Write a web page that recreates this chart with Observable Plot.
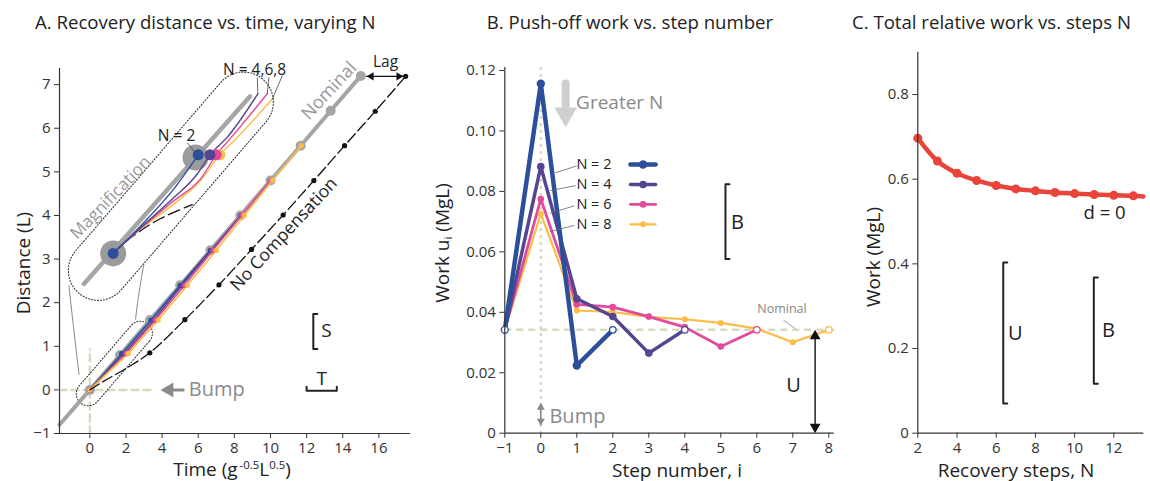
<!DOCTYPE html>
<html><head><meta charset="utf-8">
<script src="https://cdn.jsdelivr.net/npm/d3@7"></script>
<script src="https://cdn.jsdelivr.net/npm/@observablehq/plot@0.6"></script>
<style>
body{margin:0;background:#fff;font-family:"Open Sans",sans-serif;}
#root{position:relative;width:1150px;height:481px;overflow:hidden;background:#fff}
#root svg{position:absolute;top:0}
.lbl{position:absolute;white-space:nowrap;color:#222;transform:translate(-50%,-50%);line-height:1}
.rot{transform:translate(-50%,-50%) rotate(-90deg)}
.ttl{position:absolute;white-space:nowrap;color:#222;font-size:18.6px;line-height:1;transform:translateY(-50%)}
sup{font-size:60%;vertical-align:0.55em}
sub{font-size:60%;vertical-align:-0.3em}
</style></head><body><div id="root"></div>
<script>
// ===== Panel A: recovery distance vs time =====
const nominalT = [0, 1.67, 3.33, 5.0, 6.67, 8.33, 10.0, 11.67, 13.33, 15.0];
const nominalD = [0, 0.8, 1.6, 2.4, 3.2, 4.0, 4.8, 5.6, 6.4, 7.2];
const nominalTailT = -1.68, nominalTailD = -0.8;
const noCompStartT = [0, 0.78, 2.07];
const noCompStartD = [0, 0.2, 0.51];
const noCompStepT = [3.32, 5.26, 7.15, 8.95, 10.7, 12.4, 14.1, 15.8, 17.48];
const noCompStepD = [0.85, 1.61, 2.41, 3.22, 4.01, 4.8, 5.6, 6.39, 7.19];
const recN2T = [0, 1.76, 3.38, 5.0, 6.67];
const recN2D = [0, 0.83, 1.6, 2.4, 3.2];
const recN4T = [0, 1.9, 3.55, 5.1, 6.72, 8.35];
const recN4D = [0, 0.83, 1.6, 2.4, 3.2, 4.0];
const recN6T = [0, 2.0, 3.62, 5.24, 6.82, 8.4, 10.0];
const recN6D = [0, 0.83, 1.6, 2.4, 3.2, 4.0, 4.8];
const recN8T = [0, 2.12, 3.78, 5.4, 7.0, 8.55, 10.1, 11.7];
const recN8D = [0, 0.83, 1.6, 2.4, 3.2, 4.0, 4.8, 5.6];
// magnified inset (drawn in panel-A coordinates)
const insetNomT = [-0.33, 8.86], insetNomD = [2.43, 6.73];
const insetBigT = [1.29, 5.85], insetBigD = [3.13, 5.33];
const insetN2T = [1.29, 2.81, 4.65, 6.0], insetN2D = [3.13, 3.76, 4.61, 5.39];
const insetN4T = [1.29, 2.81, 4.65, 5.95, 6.65, 7.6, 9.3], insetN4D = [3.13, 3.72, 4.41, 4.95, 5.39, 5.79, 6.79];
const insetN6T = [1.29, 2.81, 4.65, 6.13, 7.0, 7.83, 9.82], insetN6D = [3.13, 3.70, 4.34, 4.84, 5.39, 5.79, 6.79];
const insetN8T = [1.29, 2.81, 4.65, 6.13, 7.2, 8.07, 10.1], insetN8D = [3.13, 3.69, 4.26, 4.80, 5.39, 5.75, 6.67];
const insetDotT = [6.0, 6.65, 7.0, 7.2];
const insetNoCompT = [1.29, 1.7, 2.81, 3.92, 5.67], insetNoCompD = [3.13, 3.3, 3.65, 3.93, 4.25];
const stepLengthS = 0.8, stepTimeT = 1.67;
const aXTicks = [0, 2, 4, 6, 8, 10, 12, 14, 16];
const aYTicks = [-1, 0, 1, 2, 3, 4, 5, 6, 7];

// ===== Panel B: push-off work vs step number =====
const stepsN2 = [-1, 0, 1, 2];
const workN2 = [0.0342, 0.1156, 0.0224, 0.0342];
const stepsN4 = [-1, 0, 1, 2, 3, 4];
const workN4 = [0.0342, 0.0882, 0.0445, 0.0386, 0.0265, 0.0342];
const stepsN6 = [-1, 0, 1, 2, 3, 4, 5, 6];
const workN6 = [0.0342, 0.0775, 0.0426, 0.0417, 0.0386, 0.0351, 0.0287, 0.0342];
const stepsN8 = [-1, 0, 1, 2, 3, 4, 5, 6, 7, 8];
const workN8 = [0.0342, 0.0726, 0.0406, 0.0401, 0.0385, 0.0377, 0.0365, 0.0346, 0.0301, 0.0342];
const nominalWork = 0.0342;
const bumpB = [0.0025, 0.0101];
const bracketB = [0.0576, 0.0824];
const bXTicks = [-1, 0, 1, 2, 3, 4, 5, 6, 7, 8];
const bYTicks = [0, 0.02, 0.04, 0.06, 0.08, 0.10, 0.12];
const legendLabels = ["N = 2", "N = 4", "N = 6", "N = 8"];

// ===== Panel C: total relative work vs steps N =====
const stepsC = [2, 3, 4, 5, 6, 7, 8, 9, 10, 11, 12, 13];
const workC = [0.697, 0.643, 0.614, 0.597, 0.585, 0.577, 0.5725, 0.5685, 0.566, 0.5638, 0.562, 0.5607];
const workCEdge = [13.5, 0.559];
const bracketCU = [0.07, 0.403], bracketCB = [0.117, 0.368];
const cXTicks = [2, 4, 6, 8, 10, 12];
const cYTicks = [0, 0.2, 0.4, 0.6, 0.8];

// ===== styling =====
const FONT = '"Open Sans", sans-serif';
const C2 = "#2c4f9c", C4 = "#56458f", C6 = "#e24a9b", C8 = "#fbbd45", RED = "#e8443a";
const GRAY = "#a5a5a5", PALE = "#d9d9c2", DARK = "#222";
const zip = (xs, ys) => xs.map((x, i) => ({x, y: ys[i]}));
const txt = (x, y, t, o = {}) => Plot.text([{x, y, t}], {x: "x", y: "y", text: "t", fontFamily: FONT, fill: DARK, ...o});
const seg = (pts, o = {}) => Plot.line(pts.map(([x, y]) => ({x, y})), {x: "x", y: "y", ...o});
const triOff = r => 2 * Math.sqrt(Math.PI * r * r / (3 * Math.sqrt(3)));
const tri = (x, y, rot, r, fill, dx = 0, dy = 0) => Plot.dot([{x, y}], {x: "x", y: "y", symbol: "triangle", r, fill, stroke: "none", rotate: rot, dx, dy});

function stadium(p1, p2, r, kx, ky, n = 30) {
  const a = [p1[0] * kx, p1[1] * ky], b = [p2[0] * kx, p2[1] * ky];
  const ang = Math.atan2(b[1] - a[1], b[0] - a[0]);
  const pts = [];
  for (let i = 0; i <= n; i++) { const t = ang - Math.PI / 2 + Math.PI * i / n; pts.push([b[0] + r * Math.cos(t), b[1] + r * Math.sin(t)]); }
  for (let i = 0; i <= n; i++) { const t = ang + Math.PI / 2 + Math.PI * i / n; pts.push([a[0] + r * Math.cos(t), a[1] + r * Math.sin(t)]); }
  pts.push(pts[0]);
  return pts.map(([x, y]) => [x / kx, y / ky]);
}

const root = document.getElementById("root");
function place(svg, left) { svg.style.left = left + "px"; root.appendChild(svg); }
function label(html, x, y, size, cls = "", color = DARK) {
  const d = document.createElement("div");
  d.className = "lbl " + cls; d.innerHTML = html;
  d.style.left = x + "px"; d.style.top = y + "px"; d.style.fontSize = size + "px"; d.style.color = color;
  root.appendChild(d);
}
function title(html, x, y, center) {
  const d = document.createElement("div");
  d.className = "ttl"; d.innerHTML = html; d.style.left = x + "px"; d.style.top = y + "px";
  if (center) d.style.transform = "translate(-50%,-50%)";
  root.appendChild(d);
}
const baseStyle = {fontFamily: FONT, fontSize: "15px", color: "#333", background: "transparent", overflow: "visible"};

// ---------- Panel A ----------
const Ax = [-1.68, 17.75], Ay = [-1, 7.37];
const A = {w: 420, l: 59, r: 10, t: 68, b: 48};
const kxA = (A.w - A.l - A.r) / (Ax[1] - Ax[0]);
const kyA = (481 - A.t - A.b) / (Ay[1] - Ay[0]);
const bigP1 = [0.47, 2.74], bigP2 = [8.5, 6.6], bigR = 30;
const smallP1 = [-0.09, -0.09], smallP2 = [2.8, 1.3], smallR = 12;
const nomAll = [{x: nominalTailT, y: nominalTailD}, ...zip(nominalT, nominalD)];
const noComp = [...zip(noCompStartT, noCompStartD), ...zip(noCompStepT, noCompStepD)];
const insetLines = [[insetN8T, insetN8D, C8], [insetN6T, insetN6D, C6], [insetN4T, insetN4D, C4], [insetN2T, insetN2D, C2]];
const recLines = [[recN2T, recN2D, C2], [recN4T, recN4D, C4], [recN6T, recN6D, C6], [recN8T, recN8D, C8]];

const plotA = Plot.plot({
  width: A.w, height: 481, marginLeft: A.l, marginRight: A.r, marginTop: A.t, marginBottom: A.b,
  style: baseStyle,
  x: {domain: Ax, ticks: aXTicks, tickSize: 5, tickPadding: 4, label: null},
  y: {domain: Ay, ticks: aYTicks, tickSize: 5, tickPadding: 4, label: null},
  marks: [
    // bump crosshair
    seg([[Ax[0], 0], [3.54, 0]], {stroke: PALE, strokeWidth: 2.5, strokeDasharray: "7,5"}),
    seg([[0, Ay[0]], [0, 0.93]], {stroke: PALE, strokeWidth: 2.5, strokeDasharray: "7,5"}),
    // magnification stadium
    seg([bigP1, bigP2], {stroke: "#555", strokeWidth: 2 * bigR + 2, strokeLinecap: "round", strokeOpacity: 0.6, dx: 4, dy: 5, ariaLabel: "shadow"}),
    seg([bigP1, bigP2], {stroke: "white", strokeWidth: 2 * bigR, strokeLinecap: "round"}),
    seg(stadium(bigP1, bigP2, bigR, kxA, kyA), {stroke: "#333", strokeWidth: 1.1, strokeDasharray: "1,2"}),
    seg(stadium(smallP1, smallP2, smallR, kxA, kyA), {stroke: "#333", strokeWidth: 1.1, strokeDasharray: "1,2"}),
    seg([[-1.16, 2.39], [-0.92, 1.5], [-0.6, 0.35]], {stroke: "#777", strokeWidth: 0.9, curve: "catmull-rom"}),
    seg([[2.99, 2.88], [2.71, 2.2], [2.53, 1.62]], {stroke: "#777", strokeWidth: 0.9, curve: "catmull-rom"}),
    // inset contents
    Plot.line(zip(insetNomT, insetNomD), {x: "x", y: "y", stroke: GRAY, strokeWidth: 4.5}),
    Plot.dot(zip(insetBigT, insetBigD), {x: "x", y: "y", r: 13, fill: "#9b9b9b"}),
    Plot.line(zip(insetNoCompT, insetNoCompD), {x: "x", y: "y", stroke: "#111", strokeWidth: 1.3, strokeDasharray: "12,5", curve: "catmull-rom"}),
    ...insetLines.map(([t, d, c]) => Plot.line(zip(t, d), {x: "x", y: "y", stroke: c, strokeWidth: 1.4, curve: "monotone-x"})),
    Plot.dot(insetDotT.map((t, i) => ({x: t, y: 5.39, c: [C2, C4, C6, C8][i]})).reverse(), {x: "x", y: "y", r: 5.5, fill: "c"}),
    Plot.dot([{x: insetN2T[0], y: insetN2D[0]}], {x: "x", y: "y", r: 5.5, fill: C2}),
    // main nominal
    Plot.line(nomAll, {x: "x", y: "y", stroke: GRAY, strokeWidth: 4}),
    Plot.dot(zip(nominalT, nominalD), {x: "x", y: "y", r: 5, fill: GRAY}),
    // recovery lines
    ...recLines.map(([t, d, c]) => Plot.line(zip(t, d), {x: "x", y: "y", stroke: c, strokeWidth: 1.6})),
    ...recLines.map(([t, d, c]) => Plot.dot(zip(t, d), {x: "x", y: "y", r: 2.6, fill: c})),
    // no compensation
    Plot.line(noComp, {x: "x", y: "y", stroke: "#111", strokeWidth: 1.3, strokeDasharray: "11,4", curve: "catmull-rom"}),
    Plot.dot(zip(noCompStepT, noCompStepD), {x: "x", y: "y", r: 2.6, fill: "#111"}),
    // labels
    txt(13.24, 6.86, "Nominal", {fill: "#999", fontSize: 18, rotate: -47}),
    txt(10.74, 3.57, "No Compensation", {fontSize: 17.5, rotate: -47}),
    txt(1.15, 4.41, "Magnification", {fill: "#9a9a9a", fontSize: 17, rotate: -46}),
    txt(16.37, 7.52, "Lag", {fontSize: 15.5}),
    seg([[15.32, 7.19], [17.36, 7.19]], {stroke: "#111", strokeWidth: 1.2}),
    tri(15.32, 7.19, -90, 3, "#111", triOff(3), 0),
    tri(17.36, 7.19, 90, 3, "#111", -triOff(3), 0),
    txt(4.8, 5.83, "N = 2", {fontSize: 15.5}),
    seg([[5.41, 5.66], [5.8, 5.46]], {stroke: "#444", strokeWidth: 0.8}),
    txt(9.12, 7.33, "N = 4,6,8", {fontSize: 15.5}),
    seg([[9.27, 7.16], [9.3, 6.79]], {stroke: "#444", strokeWidth: 0.8}),
    seg([[9.91, 7.16], [9.82, 6.79]], {stroke: "#444", strokeWidth: 0.8}),
    seg([[10.65, 7.2], [10.1, 6.67]], {stroke: "#444", strokeWidth: 0.8}),
    txt(5.48, 0, "Bump", {fill: "#8a8a8a", fontSize: 20, textAnchor: "start"}),
    seg([[4.2, 0], [5.17, 0]], {stroke: "#8a8a8a", strokeWidth: 3}),
    tri(3.91, 0, -90, 5.5, "#8a8a8a", triOff(5.5), 0),
    // S and T brackets
    seg([[12.37 + 4 / kxA, 0.94 + stepLengthS], [12.37, 0.94 + stepLengthS], [12.37, 0.94], [12.37 + 4 / kxA, 0.94]], {stroke: DARK, strokeWidth: 2}),
    txt(13.1, 1.36, "S", {fontSize: 19}),
    seg([[12.0, -0.02 + 4 / kyA], [12.0, -0.02], [12.0 + stepTimeT, -0.02], [12.0 + stepTimeT, -0.02 + 4 / kyA]], {stroke: DARK, strokeWidth: 2}),
    txt(12.83, 0.26, "T", {fontSize: 19}),
    // axis lines
    Plot.ruleX([Ax[0]], {stroke: "#333", strokeWidth: 1.2}),
    Plot.ruleY([Ay[0]], {stroke: "#333", strokeWidth: 1.2})
  ]
});
const sh = plotA.querySelector('[aria-label="shadow"]');
if (sh) sh.style.filter = "blur(5px)";
place(plotA, 0);

// ---------- Panel B ----------
const Bx = [-1, 8.15], By = [0, 0.121];
const B = {w: 420, l: 84.3, r: 6.3, t: 67, b: 48.3};
const kxB = (B.w - B.l - B.r) / (Bx[1] - Bx[0]);
const seriesB = [
  [stepsN8, workN8, C8, 2.2, 3.0],
  [stepsN6, workN6, C6, 2.8, 3.3],
  [stepsN4, workN4, C4, 3.5, 3.8],
  [stepsN2, workN2, C2, 4.5, 4.2]
];
const legendY = [0.0889, 0.0823, 0.0757, 0.0691];
const legendC = [[C2, 4.5, 4.2], [C4, 3.5, 3.8], [C6, 2.8, 3.3], [C8, 2.2, 3.0]];
const leaderB = [[[0.99, 0.0884], [0.41, 0.0862]], [[0.96, 0.0819], [0.27, 0.0803]], [[0.92, 0.0752], [0.27, 0.0728]], [[0.92, 0.0687], [0.27, 0.0668]]];

const plotB = Plot.plot({
  width: B.w, height: 481, marginLeft: B.l, marginRight: B.r, marginTop: B.t, marginBottom: B.b,
  style: baseStyle,
  x: {domain: Bx, ticks: bXTicks, tickSize: 5, tickPadding: 4, label: null},
  y: {domain: By, ticks: bYTicks, tickSize: 5, tickPadding: 4, label: null, tickFormat: d => d === 0 ? "0" : d.toFixed(2)},
  marks: [
    Plot.ruleY([nominalWork], {stroke: PALE, strokeWidth: 2.5, strokeDasharray: "7,5"}),
    Plot.ruleX([0], {stroke: PALE, strokeWidth: 2.5, strokeDasharray: "3,4"}),
    ...seriesB.map(([s, w, c, sw]) => Plot.line(zip(s, w), {x: "x", y: "y", stroke: c, strokeWidth: sw})),
    ...seriesB.map(([s, w, c, sw, r]) => Plot.dot(zip(s, w).slice(1, -1), {x: "x", y: "y", r, fill: c})),
    ...seriesB.map(([s, w, c]) => Plot.dot(zip(s, w).slice(-1), {x: "x", y: "y", r: 3.3, fill: "white", stroke: c, strokeWidth: 1.3})),
    Plot.dot([{x: -1, y: nominalWork}], {x: "x", y: "y", r: 3.5, fill: "white", stroke: C2, strokeWidth: 1.3}),
    // legend
    ...legendLabels.map((t, i) => txt(0.99, legendY[i], t, {fontSize: 14.5, textAnchor: "start"})),
    ...legendC.map(([c, sw, r], i) => seg([[2.49, legendY[i]], [3.19, legendY[i]]], {stroke: c, strokeWidth: sw})),
    ...legendC.map(([c, sw, r], i) => Plot.dot([{x: 2.84, y: legendY[i]}], {x: "x", y: "y", r, fill: c})),
    ...leaderB.map(p => seg(p, {stroke: "#666", strokeWidth: 0.8})),
    // greater N arrow
    seg([[0.69, 0.1157], [0.69, 0.1074]], {stroke: "#cfcfcf", strokeWidth: 8}),
    tri(0.69, 0.1012, 180, 8.5, "#cfcfcf", 0, -triOff(8.5)),
    txt(0.98, 0.1094, "Greater N", {fill: "#8a8a8a", fontSize: 19, textAnchor: "start"}),
    // B bracket
    seg([[5.13 + 4 / kxB, bracketB[1]], [5.13, bracketB[1]], [5.13, bracketB[0]], [5.13 + 4 / kxB, bracketB[0]]], {stroke: DARK, strokeWidth: 2}),
    txt(5.46, 0.0696, "B", {fontSize: 20}),
    // U arrow
    seg([[7.62, 0.003], [7.62, nominalWork - 0.003]], {stroke: "#111", strokeWidth: 1.4}),
    tri(7.62, nominalWork, 0, 4, "#111", 0, triOff(4)),
    tri(7.62, 0, 180, 4, "#111", 0, -triOff(4)),
    txt(7.02, 0.0158, "U", {fontSize: 20}),
    // bump
    seg([[0, bumpB[0] + 0.0012], [0, bumpB[1] - 0.0012]], {stroke: "#8a8a8a", strokeWidth: 1.6}),
    tri(0, bumpB[1], 0, 3, "#8a8a8a", 0, triOff(3)),
    tri(0, bumpB[0], 180, 3, "#8a8a8a", 0, -triOff(3)),
    txt(0.24, 0.0055, "Bump", {fill: "#8a8a8a", fontSize: 20, textAnchor: "start"}),
    // nominal label
    txt(6.7, 0.0412, "Nominal", {fill: "#888", fontSize: 12.5}),
    seg([[6.75, 0.0373], [7.07, 0.0346]], {stroke: "#888", strokeWidth: 0.8}),
    Plot.ruleX([Bx[0]], {stroke: "#333", strokeWidth: 1.2}),
    Plot.ruleY([By[0]], {stroke: "#333", strokeWidth: 1.2})
  ]
});
place(plotB, 420);

// ---------- Panel C ----------
const Cx = [2, 13.53], Cy = [0, 0.9];
const Cd = {w: 310, l: 77.3, r: 6.7, t: 51.7, b: 48.3};
const kxC = (Cd.w - Cd.l - Cd.r) / (Cx[1] - Cx[0]);
const plotC = Plot.plot({
  width: Cd.w, height: 481, marginLeft: Cd.l, marginRight: Cd.r, marginTop: Cd.t, marginBottom: Cd.b,
  style: baseStyle,
  x: {domain: Cx, ticks: cXTicks, tickSize: 5, tickPadding: 4, label: null},
  y: {domain: Cy, ticks: cYTicks, tickSize: 5, tickPadding: 4, label: null, tickFormat: d => d === 0 ? "0" : d.toFixed(1)},
  marks: [
    Plot.line([...zip(stepsC, workC), {x: workCEdge[0], y: workCEdge[1]}], {x: "x", y: "y", stroke: RED, strokeWidth: 4.5, curve: "catmull-rom"}),
    Plot.dot(zip(stepsC, workC), {x: "x", y: "y", r: 4.5, fill: RED}),
    txt(11.53, 0.519, "d = 0", {fontSize: 18.5}),
    seg([[6.36 + 4 / kxC, bracketCU[1]], [6.36, bracketCU[1]], [6.36, bracketCU[0]], [6.36 + 4 / kxC, bracketCU[0]]], {stroke: DARK, strokeWidth: 2}),
    txt(6.98, 0.2355, "U", {fontSize: 20}),
    seg([[10.98 + 4 / kxC, bracketCB[1]], [10.98, bracketCB[1]], [10.98, bracketCB[0]], [10.98 + 4 / kxC, bracketCB[0]]], {stroke: DARK, strokeWidth: 2}),
    txt(11.73, 0.2427, "B", {fontSize: 20}),
    Plot.ruleX([Cx[0]], {stroke: "#333", strokeWidth: 1.2}),
    Plot.ruleY([Cy[0]], {stroke: "#333", strokeWidth: 1.2})
  ]
});
place(plotC, 840);

// ---------- titles & axis labels ----------
title("A. Recovery distance vs. time, varying N", 35, 22);
title("B. Push-off work vs. step number", 630, 22, true);
title("C. Total relative work vs. steps N", 852, 22);
label("Distance (L)", 23, 263, 19, "rot");
label("Time (g<sup>&thinsp;-0.5</sup>L<sup>0.5</sup>)", 232, 469, 19);
label("Work u<sub>i</sub> (MgL)", 443, 243, 19, "rot");
label("Step number, i", 677, 470, 19);
label("Work (MgL)", 873, 257, 19, "rot");
label("Recovery steps, N", 1016, 470, 19);
</script></body></html>
